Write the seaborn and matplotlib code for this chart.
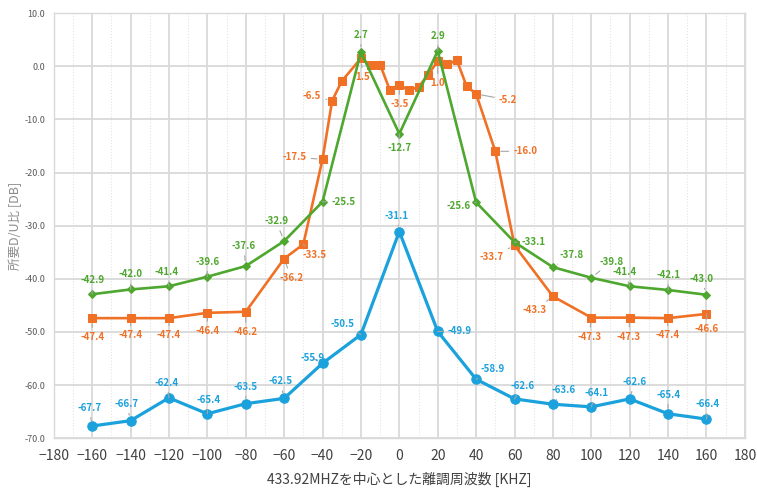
import numpy as np
import pandas as pd
import seaborn as sns
import matplotlib.pyplot as plt
from matplotlib.ticker import MultipleLocator

sns.set_style("white")
plt.rcParams['font.family'] = ['Noto Sans CJK JP', 'DejaVu Sans']

# data
green_x = [-160, -140, -120, -100, -80, -60, -40, -20, 0, 20, 40, 60, 80, 100, 120, 140, 160]
green_y = [-42.9, -42.0, -41.4, -39.6, -37.6, -32.9, -25.5, 2.7, -12.7, 2.9, -25.6, -33.1,
           -37.8, -39.8, -41.4, -42.1, -43.0]

orange_x = [-160, -140, -120, -100, -80, -60, -50, -40, -35, -30, -20, -15, -10, -5, 0,
            5, 10, 15, 20, 25, 30, 35, 40, 50, 60, 80, 100, 120, 140, 160]
orange_y = [-47.4, -47.4, -47.4, -46.4, -46.2, -36.2, -33.5, -17.5, -6.5, -2.8, 1.5, 0.2, 0.3, -4.4, -3.5,
            -4.5, -3.9, -1.6, 1.0, 0.4, 1.1, -3.7, -5.2, -16.0, -33.7, -43.3, -47.3, -47.3, -47.4, -46.6]
orange_labeled = [-160, -140, -120, -100, -80, -60, -50, -40, -35, -20, 0, 20, 40, 50, 60,
                  80, 100, 120, 140, 160]

blue_x = [-160, -140, -120, -100, -80, -60, -40, -20, 0, 20, 40, 60, 80, 100, 120, 140, 160]
blue_y = [-67.7, -66.7, -62.4, -65.4, -63.5, -62.5, -55.9, -50.5, -31.1, -49.9, -58.9, -62.6,
          -63.6, -64.1, -62.6, -65.4, -66.4]

# label offsets (pixels)
green_off = [(0, 14), (0, 15), (-2, 14), (0, 15), (-2, 20), (-8, 20), (21, 0), (0, 17), (0, -14),
             (0, 15), (-18, -4), (19, 0), (19, 12), (20, 16), (-5, 14), (0, 15), (-5, 16)]
orange_off = [(0, -19), (0, -17), (0, -17), (0, -18), (0, -20), (7, -19), (11, -11), (-28, 2), (-20, 5),
              (2, -19), (0, -19), (0, -22), (32, -6), (30, 0), (-23, -12), (-18, -14), (-2, -19),
              (-1, -19), (-1, -17), (0, -15)]
blue_off = [(-3, 18), (-4, 17), (-2, 15), (1, 14), (0, 17), (-4, 17), (-10, 5), (-18, 11), (-3, 16),
            (22, 0), (17, 10), (8, 13), (11, 14), (5, 14), (5, 17), (0, 19), (1, 15)]

c_green = '#4ea72e'
c_orange = '#f07126'
c_blue = '#1ba1dc'

fig, ax = plt.subplots(figsize=(7.57, 4.88), dpi=100)
fig.subplots_adjust(left=0.071, right=0.984, top=0.973, bottom=0.102)

dfg = pd.DataFrame({'x': green_x, 'y': green_y})
dfo = pd.DataFrame({'x': orange_x, 'y': orange_y})
dfb = pd.DataFrame({'x': blue_x, 'y': blue_y})

sns.lineplot(data=dfg, x='x', y='y', ax=ax, color=c_green, lw=1.9, marker='D', markersize=3.8,
             markeredgecolor=c_green, zorder=5)
sns.lineplot(data=dfo, x='x', y='y', ax=ax, color=c_orange, lw=1.9, marker='s', markersize=5.8,
             markeredgecolor=c_orange, zorder=4)
sns.lineplot(data=dfb, x='x', y='y', ax=ax, color=c_blue, lw=2.3, marker='o', markersize=6.8,
             markeredgecolor=c_blue, zorder=3)

def label(xs, ys, offs, color):
    for x, y, (dx, dy) in zip(xs, ys, offs):
        ax.annotate(f"{y:.1f}", xy=(x, y), xytext=(dx, dy), textcoords='offset pixels',
                    ha='center', va='center', fontsize=7, fontweight='bold', color=color,
                    arrowprops=dict(arrowstyle='-', color='#a6a6a6', lw=0.8, shrinkA=1, shrinkB=4),
                    zorder=6)

label(green_x, green_y, green_off, c_green)
oy = dict(zip(orange_x, orange_y))
label(orange_labeled, [oy[x] for x in orange_labeled], orange_off, c_orange)
label(blue_x, blue_y, blue_off, c_blue)

ax.set_xlim(-180, 180)
ax.set_ylim(-70, 10)
ax.xaxis.set_major_locator(MultipleLocator(20))
ax.xaxis.set_minor_locator(MultipleLocator(10))
ax.yaxis.set_major_locator(MultipleLocator(10))
ax.grid(which='major', axis='both', color='#d9d9d9', lw=1.3, zorder=0)
ax.grid(which='minor', axis='x', color='#e3e3e3', lw=0.8, ls=':', zorder=0)
ax.set_axisbelow(True)
for s in ax.spines.values():
    s.set_color('#d9d9d9')
    s.set_linewidth(1.0)

ax.set_yticks(np.arange(-70, 11, 10))
ax.set_yticklabels([f"{v:.1f}" for v in np.arange(-70, 11, 10)], fontsize=6.5, color='#595959')
ax.tick_params(axis='x', labelsize=10, colors='#404040', length=0, pad=8)
ax.tick_params(axis='y', length=0, pad=6)
ax.tick_params(which='minor', length=0)

ax.set_xlabel("433.92MHZを中心とした離調周波数 [KHZ]", fontsize=10, color='#404040', labelpad=6)
ax.set_ylabel("所要D/U比 [DB]", fontsize=9, color='#8c8c8c', labelpad=2)

plt.savefig("out.png", dpi=100)
